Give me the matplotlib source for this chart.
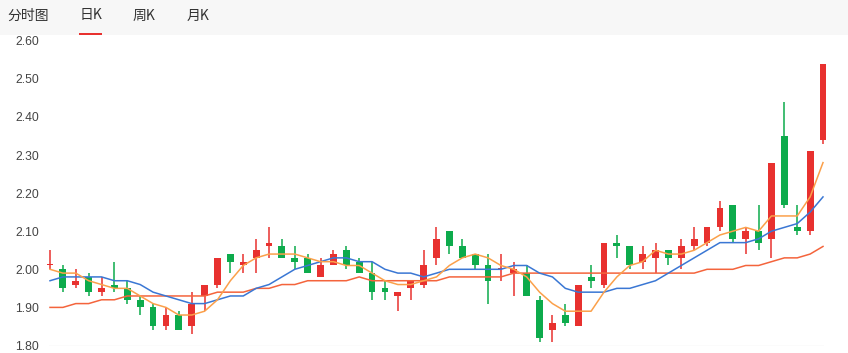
import matplotlib
matplotlib.use("Agg")
import matplotlib.pyplot as plt
from matplotlib.patches import Rectangle
import numpy as np

# ---------------- data ----------------
opens = [2.01, 2.00, 1.96, 1.98, 1.94, 1.96, 1.95, 1.92, 1.90, 1.85,
         1.88, 1.85, 1.93, 1.96, 2.04, 2.01, 2.03, 2.06, 2.06, 2.03,
         2.03, 1.98, 2.01, 2.05, 2.02, 1.99, 1.95, 1.93, 1.95, 1.96,
         2.03, 2.10, 2.06, 2.04, 2.01, 2.00, 1.99, 1.99, 1.92, 1.84,
         1.88, 1.85, 1.98, 1.96, 2.07, 2.06, 2.02, 2.03, 2.05, 2.03,
         2.06, 2.07, 2.11, 2.17, 2.08, 2.10, 2.08, 2.35, 2.11, 2.10,
         2.34]
closes = [2.01, 1.95, 1.97, 1.94, 1.95, 1.95, 1.92, 1.90, 1.85, 1.88,
          1.84, 1.91, 1.96, 2.03, 2.02, 2.02, 2.05, 2.07, 2.03, 2.02,
          1.99, 2.01, 2.04, 2.01, 1.99, 1.94, 1.94, 1.94, 1.97, 2.01,
          2.08, 2.06, 2.03, 2.01, 1.97, 2.00, 2.00, 1.93, 1.82, 1.86,
          1.86, 1.96, 1.97, 2.07, 2.06, 2.01, 2.04, 2.05, 2.03, 2.06,
          2.08, 2.11, 2.16, 2.08, 2.10, 2.07, 2.28, 2.17, 2.10, 2.31,
          2.54]
highs = [2.05, 2.01, 2.00, 1.99, 1.98, 2.02, 1.97, 1.93, 1.91, 1.90,
         1.89, 1.94, 1.96, 2.03, 2.04, 2.04, 2.08, 2.11, 2.08, 2.06,
         2.04, 2.03, 2.05, 2.06, 2.03, 2.02, 1.97, 1.94, 1.97, 2.05,
         2.11, 2.10, 2.08, 2.04, 2.04, 2.04, 2.02, 2.01, 1.93, 1.88,
         1.91, 1.96, 2.01, 2.07, 2.09, 2.06, 2.06, 2.07, 2.05, 2.08,
         2.11, 2.11, 2.18, 2.17, 2.11, 2.17, 2.28, 2.44, 2.17, 2.31,
         2.54]
lows = [2.00, 1.94, 1.95, 1.93, 1.93, 1.94, 1.91, 1.88, 1.84, 1.84,
        1.84, 1.83, 1.89, 1.95, 1.99, 1.99, 1.99, 2.03, 2.03, 2.00,
        1.99, 1.98, 2.01, 2.00, 1.99, 1.92, 1.92, 1.89, 1.92, 1.95,
        2.01, 2.04, 2.03, 2.00, 1.91, 1.97, 1.93, 1.93, 1.81, 1.81,
        1.85, 1.85, 1.95, 1.95, 2.03, 2.00, 2.00, 1.99, 2.01, 2.00,
        2.05, 2.06, 2.10, 2.07, 2.04, 2.05, 2.03, 2.16, 2.09, 2.09,
        2.33]
ma_orange = [2.00, 1.99, 1.99, 1.97, 1.96, 1.95, 1.95, 1.93, 1.91, 1.90,
             1.88, 1.88, 1.89, 1.92, 1.97, 2.01, 2.03, 2.04, 2.04, 2.04,
             2.03, 2.02, 2.02, 2.01, 2.01, 1.99, 1.97, 1.96, 1.96, 1.97,
             1.98, 2.01, 2.03, 2.04, 2.03, 2.01, 2.00, 1.98, 1.94, 1.91,
             1.89, 1.89, 1.89, 1.94, 1.98, 2.01, 2.02, 2.05, 2.04, 2.04,
             2.05, 2.07, 2.09, 2.10, 2.11, 2.10, 2.14, 2.14, 2.14, 2.19,
             2.28]
ma_blue = [1.97, 1.98, 1.98, 1.98, 1.98, 1.97, 1.97, 1.96, 1.94, 1.93,
           1.92, 1.91, 1.91, 1.92, 1.93, 1.93, 1.95, 1.96, 1.98, 2.00,
           2.01, 2.02, 2.03, 2.03, 2.02, 2.02, 2.00, 1.99, 1.99, 1.98,
           1.99, 2.00, 2.00, 2.00, 2.00, 2.00, 2.01, 2.01, 1.99, 1.98,
           1.95, 1.94, 1.94, 1.94, 1.95, 1.95, 1.96, 1.97, 1.99, 2.01,
           2.03, 2.05, 2.07, 2.07, 2.07, 2.08, 2.10, 2.11, 2.12, 2.15,
           2.19]
ma_red = [1.90, 1.90, 1.91, 1.91, 1.92, 1.92, 1.93, 1.93, 1.93, 1.93,
          1.93, 1.93, 1.93, 1.94, 1.94, 1.94, 1.95, 1.95, 1.96, 1.96,
          1.97, 1.97, 1.97, 1.97, 1.98, 1.97, 1.97, 1.97, 1.97, 1.97,
          1.97, 1.98, 1.98, 1.98, 1.98, 1.98, 1.99, 1.99, 1.99, 1.99,
          1.99, 1.99, 1.99, 1.99, 1.99, 1.99, 1.99, 1.99, 1.99, 1.99,
          1.99, 2.00, 2.00, 2.00, 2.01, 2.01, 2.02, 2.03, 2.03, 2.04,
          2.06]
y_ticks = [1.80, 1.90, 2.00, 2.10, 2.20, 2.30, 2.40, 2.50, 2.60]
tabs = ["分时图", "日K", "周K", "月K"]

# ---------------- figure ----------------
W, H = 848, 353
fig = plt.figure(figsize=(W / 100, H / 100), dpi=100)
fig.patch.set_facecolor("white")

def fx(px):
    return px / W

def fy(py):
    return 1 - py / H

# tab bar
fig.patches.append(Rectangle((0, fy(35)), 1, 35 / H, transform=fig.transFigure,
                             facecolor="#f7f7f7", edgecolor="none", zorder=0))
tab_x = [7, 80, 133, 187]
for t, x in zip(tabs, tab_x):
    fig.text(fx(x), fy(15.5), t, ha="left", va="center", fontsize=10,
             color="#333333", family=["Noto Sans CJK SC", "DejaVu Sans"])
fig.patches.append(Rectangle((fx(79), fy(35)), 23 / W, 2.2 / H,
                             transform=fig.transFigure,
                             facecolor="#e8312f", edgecolor="none", zorder=2))

# chart axes
left_px, right_px = 49, 824
top_px, bottom_px = 40.7, 345.5
ax = fig.add_axes([fx(left_px), fy(bottom_px), (right_px - left_px) / W,
                   (bottom_px - top_px) / H])
n = len(opens)
x = np.arange(n)
ppu = (right_px - left_px - 2) / (n - 1)
ax.set_xlim(-1 / ppu, (n - 1) + 1 / ppu)
ax.set_ylim(1.80, 2.60)

up_col = "#e8312f"
dn_col = "#0dab4c"
o = np.array(opens); c = np.array(closes)
hi = np.array(highs); lo = np.array(lows)
cols = [up_col if cc >= oo else dn_col for oo, cc in zip(o, c)]
bottoms = np.minimum(o, c)
heights = np.maximum(np.abs(c - o), 0.003)

ax.axhline(1.80, color="#ececec", lw=1.0, zorder=1)
ax.vlines(x, lo, hi, colors=cols, lw=1.1, zorder=2, clip_on=False)
ax.bar(x, heights, bottom=bottoms, width=0.53, color=cols, zorder=3,
       clip_on=False, linewidth=0)

ax.plot(x, ma_red, color="#f4643c", lw=1.1, zorder=4, clip_on=False)
ax.plot(x, ma_blue, color="#3a77d4", lw=1.1, zorder=4, clip_on=False)
ax.plot(x, ma_orange, color="#fba04a", lw=1.1, zorder=4, clip_on=False)

for s in ax.spines.values():
    s.set_visible(False)
ax.set_xticks([])
ax.set_yticks(y_ticks)
ax.set_yticklabels([f"{v:.2f}" for v in y_ticks], family="Liberation Sans",
                   fontsize=8.7, color="#444444")
ax.tick_params(axis="y", length=0, pad=7)
ax.set_facecolor("none")

fig.savefig("out.png", dpi=100)
